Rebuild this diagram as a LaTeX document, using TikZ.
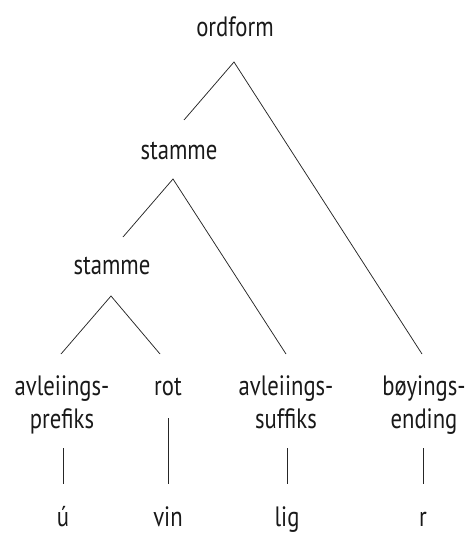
\documentclass[tikz,border=0pt]{standalone}
\usepackage{fontspec}
\setmainfont{PT Sans}[FakeStretch=0.81]
\begin{document}
\begin{tikzpicture}[x=1pt,y=-1pt,
  lbl/.style={anchor=base,inner sep=0pt,font=\fontsize{28}{33}\selectfont,align=center,text=black!90},
  edge/.style={line width=0.75pt,black!85}]
\useasboundingbox (0,0) rectangle (471,535);
% labels
\node[lbl] (ordform) at (235,37) {ordform};
\node[lbl] (stamme1) at (179,159) {stamme};
\node[lbl] (stamme2) at (112,274) {stamme};
\node[lbl] (pre1) at (62,395) {avleiings-};
\node[lbl] (pre2) at (62,428) {prefiks};
\node[lbl] (rot) at (168,395) {rot};
\node[lbl] (suf1) at (286,395) {avleiings-};
\node[lbl] (suf2) at (286,428) {suffiks};
\node[lbl] (boy1) at (424,395) {bøyings-};
\node[lbl] (boy2) at (424,428) {ending};
\node[lbl] (u) at (63,526) {ú};
\node[lbl] (vin) at (168,526) {vin};
\node[lbl] (lig) at (287,526) {lig};
\node[lbl] (r) at (423,526) {r};
% connector ends
\coordinate (a0) at (234,62);
\coordinate (a0l) at (184,120);
\coordinate (a0r) at (422,354);
\coordinate (a1) at (173,179);
\coordinate (a1l) at (123,237);
\coordinate (a1r) at (286,354);
\coordinate (a2) at (111,296);
\coordinate (a2l) at (61,354);
\coordinate (a2r) at (160,354);
\coordinate (v1t) at (63,448);  \coordinate (v1b) at (63,484);
\coordinate (v2t) at (168,418); \coordinate (v2b) at (168,484);
\coordinate (v3t) at (287,448); \coordinate (v3b) at (287,484);
\coordinate (v4t) at (423,448); \coordinate (v4b) at (423,484);
% connectors
\draw[edge] (a0l) -- (a0) -- (a0r);
\draw[edge] (a1l) -- (a1) -- (a1r);
\draw[edge] (a2l) -- (a2) -- (a2r);
\draw[edge] (v1t) -- (v1b);
\draw[edge] (v2t) -- (v2b);
\draw[edge] (v3t) -- (v3b);
\draw[edge] (v4t) -- (v4b);
\end{tikzpicture}
\end{document}
